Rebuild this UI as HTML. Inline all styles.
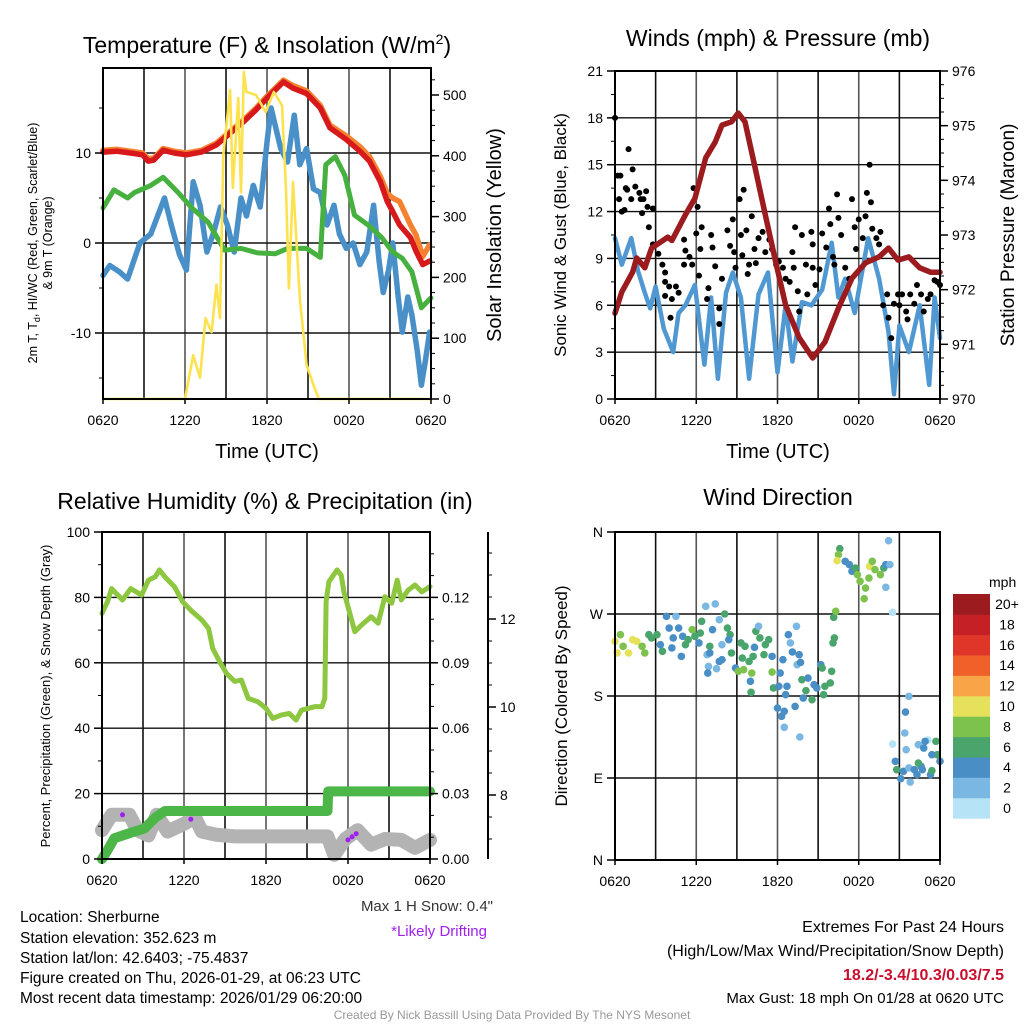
<!DOCTYPE html>
<html><head><meta charset="utf-8">
<style>
html,body{margin:0;padding:0;background:#fff;}
svg{display:block;font-family:"Liberation Sans",Arial,sans-serif;}
</style></head>
<body>
<svg id="root" width="1024" height="1024" viewBox="0 0 1024 1024" xmlns="http://www.w3.org/2000/svg">
<text x="267" y="53" font-size="23" text-anchor="middle">Temperature (F) &amp; Insolation (W/m<tspan dy="-9" font-size="14">2</tspan><tspan dy="9">)</tspan></text>
<text x="778" y="46" font-size="23" text-anchor="middle">Winds (mph) &amp; Pressure (mb)</text>
<text x="265" y="509" font-size="23" text-anchor="middle">Relative Humidity (%) &amp; Precipitation (in)</text>
<text x="778" y="505" font-size="23" text-anchor="middle">Wind Direction</text>
<text x="267" y="458" font-size="20" text-anchor="middle">Time (UTC)</text>
<text x="778" y="458" font-size="20" text-anchor="middle">Time (UTC)</text>
<text transform="translate(37,243) rotate(-90)" font-size="12.5" text-anchor="middle">2m T, T<tspan dy="3" font-size="9">d</tspan><tspan dy="-3">, HI/WC (Red, Green, Scarlet/Blue)</tspan></text>
<text transform="translate(52,243) rotate(-90)" font-size="12.5" text-anchor="middle">&amp; 9m T (Orange)</text>
<text transform="translate(501,235) rotate(-90)" font-size="20" text-anchor="middle">Solar Insolation (Yellow)</text>
<text transform="translate(566,235) rotate(-90)" font-size="17" text-anchor="middle">Sonic Wind &amp; Gust (Blue, Black)</text>
<text transform="translate(1014,235) rotate(-90)" font-size="19" text-anchor="middle">Station Pressure (Maroon)</text>
<text transform="translate(50,696) rotate(-90)" font-size="13" text-anchor="middle">Percent, Precipitation (Green), &amp; Snow Depth (Gray)</text>
<text transform="translate(567,696) rotate(-90)" font-size="17" text-anchor="middle">Direction (Colored By Speed)</text>
<g font-size="15.5">
<text x="20" y="922">Location: Sherburne</text>
<text x="20" y="943">Station elevation: 352.623 m</text>
<text x="20" y="963">Station lat/lon: 42.6403; -75.4837</text>
<text x="20" y="983">Figure created on Thu, 2026-01-29, at 06:23 UTC</text>
<text x="20" y="1003">Most recent data timestamp: 2026/01/29 06:20:00</text>
</g>
<text x="493" y="911" font-size="15" text-anchor="end" fill="#333">Max 1 H Snow: 0.4"</text>
<text x="487" y="936" font-size="15" text-anchor="end" fill="#a020f0">*Likely Drifting</text>
<text x="1004" y="932" font-size="16" text-anchor="end">Extremes For Past 24 Hours</text>
<text x="1004" y="956" font-size="16" text-anchor="end">(High/Low/Max Wind/Precipitation/Snow Depth)</text>
<text x="1004" y="980" font-size="16" text-anchor="end" font-weight="bold" fill="#c8102e">18.2/-3.4/10.3/0.03/7.5</text>
<text x="1004" y="1003" font-size="15" text-anchor="end">Max Gust: 18 mph On 01/28 at 0620 UTC</text>
<text x="512" y="1019" font-size="12" text-anchor="middle" fill="#999">Created By Nick Bassill Using Data Provided By The NYS Mesonet</text>
</svg>
<script>
// ---------- DATA ----------
const xTickLabels = ["0620","1220","1820","0020","0620"];
// Panel 1
const tempHours = [0,1,2,2.9,3.3,3.7,4.4,5.2,6.1,7.2,8.3,9.0,10.3,11.2,12.0,12.6,13.2,13.9,14.9,15.9,16.6,17.8,18.8,19.5,20.3,20.8,21.2,21.7,22.5,22.9,23.4,23.9];
const tempValues = [10.1,10.2,10.0,9.8,9.1,9.2,10.3,10.0,9.8,10.1,10.9,11.8,13.5,14.8,16.1,17.0,17.9,17.2,16.6,15.0,12.8,11.5,10.2,9.1,6.8,4.6,3.5,2.0,0.6,-0.9,-2.4,-2.0];
const temp9mValues = [10.3,10.4,10.2,10.0,9.4,9.4,10.5,10.2,10.0,10.3,11.1,12.0,13.7,15.0,16.3,17.2,18.1,17.5,16.9,15.3,13.1,11.9,10.7,9.6,7.4,5.5,5.0,4.6,2.0,0.9,-1.5,-0.2];
const dewHours = [0,0.5,1.2,1.8,2.7,3.5,4.1,4.5,5,5.6,6.1,6.6,7.1,7.6,8.1,8.6,9.1,9.6,10.1,10.5,11,11.5,12,12.3,13,13.5,14,14.4,14.9,15.4,15.9,16.4,16.9,17.3,17.8,18.3,18.8,19.3,19.8,20.2,20.5,20.9,21.2,21.6,21.9,22.3,22.6,23,23.3,23.6,23.9];
const dewValues = [-3.6,-2.5,-3.2,-4,0,1,3.4,5,2,-1.3,-3,6.8,4.2,-1,1.2,4,2,-1,5,3,6.4,4,11.2,15,10.5,9,14.2,8.7,10.5,6,5.6,2,4.2,1,-0.6,0,-2.4,-1,4.2,-2,-5.5,-3,0,-6,-9.9,-6,-8,-12,-15.8,-13,-9.9];
const chillHours = [0,0.8,1.8,2.3,3.5,4.4,5.5,6.5,7.7,8.9,10.1,11.3,12.6,13.5,14.9,15.9,16.3,17,17.7,18.4,19.4,20.4,21.2,21.9,22.6,23.3,24];
const chillValues = [3.9,5.9,5,5.6,6.4,7.3,5.6,3.9,2.3,-0.8,-0.6,-1.1,-1.2,-0.6,-0.6,-1.6,8.7,9.6,7.5,3.1,2,0.6,-1,-1.7,-3.2,-7.2,-6.1];
const solarHours = [0,6.0,6.6,7.1,7.5,7.95,8.3,8.56,8.8,9.3,9.5,9.9,10.1,10.3,10.5,11.2,11.9,12.5,13.1,13.4,13.6,13.9,14.4,14.9,15.4,15.8,24];
const solarValues = [0,0,72,35,133,110,188,133,401,508,347,495,340,538,505,500,472,505,483,340,182,357,166,56,23,0,0];
// Panel 2
const windHours = [0,0.5,1.2,1.7,2.2,2.6,3.0,3.6,4.3,4.7,5.2,5.9,6.6,7.1,7.6,8.2,8.7,9.3,9.9,10.6,11.3,12.0,12.6,13.1,13.8,14.5,15.3,16.0,16.5,17.0,17.7,18.7,19.5,20.2,20.6,21.0,21.7,22.5,23.2,23.6,24];
const windValues = [10.3,8.6,10.3,8.2,6.8,5.8,7.2,4.5,3.0,5.5,6.0,7.3,2.2,6.5,1.3,6.8,8.1,6.5,1.3,6.7,8.1,1.7,6.0,2.4,6.2,6.0,7.0,10.0,6.5,7.7,5.5,10.3,7.7,4.3,0.3,4.7,3.0,6.0,0.9,6.5,3.9];
const pressHours = [0,0.5,1.3,1.6,2.2,2.7,3.9,4.2,5.2,5.9,6.7,7.4,7.9,8.6,9.1,9.6,10.3,11.1,11.8,12.6,13.6,14.6,15.5,16.5,17.5,18.5,19.5,20.2,20.9,21.7,22.5,23.3,24];
const pressValues = [971.57,971.96,972.32,972.58,972.40,972.76,972.96,972.90,973.37,973.67,974.41,974.70,975.01,975.07,975.23,975.07,974.28,973.37,972.58,971.72,971.12,970.75,971.04,971.66,972.21,972.49,972.60,972.76,972.54,972.60,972.40,972.32,972.32];
const gustHours = [0,1.0,0.2,0.4,1.3,0.8,0.9,1.5,1.8,2.3,0.3,1.2,1.9,2.1,0.7,2.0,2.8,0.5,2.4,2.5,2.8,3.2,3.5,3.7,3.7,4.0,4.5,4.7,3.7,4.2,4.1,5.1,5.2,5.5,5.7,5.1,5.8,6.1,6.0,6.4,6.3,6.2,6.9,6.8,7.2,7.1,7.4,7.7,7.7,7.9,8.3,8.5,8.7,8.8,8.9,9.2,9.5,9.3,9.4,9.7,9.8,9.9,10.1,10.3,10.4,10.6,10.9,11.1,11.4,11.6,11.9,12.1,12.4,12.6,12.9,13.1,13.2,13.3,13.5,13.6,13.8,14.1,14.2,14.5,14.6,14.6,14.8,15.1,15.3,15.6,15.8,15.9,16.1,16.2,16.4,16.5,16.7,17.0,17.3,17.5,17.7,17.8,18.0,18.3,18.5,18.6,18.9,18.8,19.0,19.3,19.5,19.6,19.8,20.1,20.2,20.4,20.6,20.9,21.0,21.2,21.5,21.6,21.8,22.1,22.3,22.6,22.8,23.1,23.3,23.6,23.8,24];
const gustValues = [18,16,14.3,14.3,14.7,13.5,13.4,13.6,13.2,13.3,12.8,12.8,12.8,12.8,12.1,11.9,12.2,12.0,12.3,11.0,9.9,9.3,8.6,8.1,7.5,7.2,7.2,6.8,6.6,6.4,5.2,10.2,9.5,9.1,8.6,8.6,13.5,12.3,10.6,11,9.6,7.9,7.1,6.4,9.7,10.5,8.5,5.8,4.8,7.7,10.8,9.8,11.5,9.4,8.4,12.8,13.4,10.5,9.2,10.8,8.0,8.6,11.7,9.6,8.7,10.3,10.7,9.4,10.2,9.6,8.6,8.8,8.4,7.7,7.5,9.4,8.4,11.0,6.9,5.6,10.5,8.6,6.7,10.7,9.9,8.4,7.3,8.3,10.6,9.7,12.2,11.2,9.1,8.6,13.1,11.6,10.5,8.4,7.7,12.8,11.0,9.6,11.5,10.3,11.7,13.2,12.6,15.0,10.9,10.3,9.9,10.7,6.0,6.7,5.2,3.9,6.1,6.7,6.0,6.7,5.6,5.1,6.7,6.1,7.3,6.7,5.6,6.4,6.7,7.6,7.5,7.3];
// Panel 3
const rhHours = [0,0.4,0.7,1.5,2.1,2.9,3.4,3.9,4.2,4.7,5.3,5.9,6.5,7.3,7.8,8.1,8.6,9.1,9.7,10.2,10.7,11.4,12,12.5,13.1,13.7,14.2,14.6,15.6,16.1,16.3,16.4,16.6,17.2,17.5,17.7,18.1,18.5,19,19.7,20.2,20.7,21.2,21.6,21.9,22.4,22.9,23.4,24];
const rhValues = [75.1,78.7,82.7,79.2,82.7,80.7,85.3,86.3,88.4,85.8,83.3,78.7,76.1,73.1,70.5,64.4,60.4,56.8,54.3,54.7,49.1,48.1,46.1,43,44,44.5,42.5,45.5,46.6,46.6,49.1,78.7,84.8,88.4,86.8,81.7,75.6,69.5,71.6,74.1,72.1,80.2,78.2,85.3,79.2,82.2,83.8,81.7,83.3];
const precipHours = [0,0.4,0.9,2.1,3.1,3.9,4.6,16.5,16.55,24];
const precipValues = [0,0.004,0.0095,0.012,0.014,0.019,0.022,0.022,0.031,0.031];
const snowHours = [0,0.7,2.0,2.6,3.4,4.0,4.8,6.1,6.8,7.3,8.3,9.7,16.5,17.0,17.8,18.7,19.7,20.7,21.9,22.9,24];
const snowValues = [7.2,7.55,7.55,7.2,7.08,7.55,7.17,7.36,7.5,7.17,7.1,7.06,7.06,6.64,7.0,7.2,6.87,7.0,6.98,6.8,6.98];
const driftHours = [1.5,6.5,18.0,18.3,18.6];
const driftValues = [7.55,7.45,6.98,7.05,7.12];
// Panel 4
const dirHours = [0,0.15,0.4,0.6,1.0,1.3,1.6,2.0,2.2,2.5,2.7,3.1,3.5,3.35,3.8,4.5,4.0,4.3,4.7,5.0,4.2,4.9,5.2,5.7,5.4,5.9,6.4,6.3,6.2,6.7,7.4,7.2,7.7,8.1,8.3,8.5,7.0,6.8,7.0,7.7,6.9,7.5,6.85,7.9,8.4,7.9,8.6,8.9,9.1,9.5,9.3,9.6,9.4,9.9,10.1,10.2,10.0,10.05,10.3,10.4,10.6,10.7,11.1,11.35,11.0,11.6,11.6,12.2,11.7,12.1,12.7,12.6,12.0,12.3,12.5,12.5,13.3,13.4,12.8,12.95,13.1,13.6,13.45,13.7,12.4,13.8,14.25,13.9,14.1,14.55,14.7,14.9,15.2,15.3,15.4,15.5,15.9,16.0,13.65,16.1,16.2,16.15,16.3,16.6,16.5,16.4,17.0,17.3,17.5,17.75,17.9,18.1,18.5,18.4,18.75,18.8,19.0,19.2,19.6,19.85,20.0,20.2,20.3,20.0,20.5,21.7,21.45,21.4,20.5,21.5,22.4,23.1,22.8,22.9,24.0,23.7,23.8,20.7,20.8,21.1,21.3,21.8,21.7,22.1,22.3,22.6,22.7,23.3,23.4,22.4,23.4];
const dirValues = [240,227.2,247.3,234.5,227.2,241.8,240,234.5,227.2,247.3,243.7,247.3,229,236.3,267.4,267.4,254.6,243.7,254.6,245.5,232.7,223.5,236.3,252.8,241.8,245.5,262,249.1,238.2,278.4,281,252.8,263.8,270,254.6,247.3,234.5,225.4,227.2,218,212.5,210,205.2,219.9,241.8,236.3,227.2,210.7,207.1,208.9,238.2,234.5,221.7,218,205.2,223.5,196.1,184,233.4,251,256.5,243.7,236.3,241.8,225.4,223.5,206.3,205.2,188.8,190.6,190.6,181.4,166.8,157.7,163.2,145.6,168.6,256.5,247.3,238.2,228.3,225.4,214.4,216.9,219.9,197.9,199.7,177.8,185.8,176,192.4,188.8,214.4,210.7,181.4,190.6,194.3,207.1,135,238.2,243.7,266.3,273,341.7,335.1,328.5,327.8,324.2,316.8,320.5,313.2,305.9,298.5,286.8,309.5,322.3,327.8,318.7,313.2,320.5,324.2,350.5,324.2,299.3,271.8,179.6,162.4,139.4,127.3,121.1,126.6,131.7,122.9,130.2,108.3,130.2,115.6,108.3,99.1,89.2,97.3,85.6,101,99.1,93.6,102.8,99.1,93.6,98,106.4,115.6];
const dirSpeeds = [10,10,8,8,10,10,10,8,8,6,6,6,6,4,4,2,4,4,4,4,4,4,6,8,6,6,6,6,4,2,2,4,2,6,6,6,6,2,4,4,2,2,4,4,4,2,6,4,8,8,6,6,6,6,8,6,4,6,4,6,2,6,6,6,6,4,8,4,6,4,4,4,4,4,4,2,4,2,4,2,4,4,2,4,4,6,4,4,6,6,4,4,4,6,6,6,6,6,2,6,6,6,8,6,8,10,4,4,4,6,8,8,8,8,8,10,8,8,8,6,4,2,2,2,0,2,4,2,0,2,2,0,4,4,4,6,6,4,6,4,4,2,2,4,4,4,4,4,6,6,4];
const cbLabels = ["0","2","4","6","8","10","12","14","16","18","20+"];
const cbColors = ["#b6e3f6","#7ab7e3","#4a8ec6","#4aa56d","#7cc24d","#e6e15a","#f7a546","#f0612a","#e0362a","#c42026","#9b1b1e"];

// ---------- DRAW ----------
const NS = "http://www.w3.org/2000/svg";
const root = document.getElementById("root");
function mk(tag, attrs, parent) {
  const e = document.createElementNS(NS, tag);
  for (const k in attrs) e.setAttribute(k, attrs[k]);
  (parent || root).appendChild(e);
  return e;
}
function lin(d0, d1, r0, r1) { return v => r0 + (v - d0) / (d1 - d0) * (r1 - r0); }
function pathD(xs, ys, fx, fy) { return xs.map((h, i) => (i ? "L" : "M") + fx(h).toFixed(1) + "," + fy(ys[i]).toFixed(1)).join(""); }

function frame(name, L, T, R, B, fx, hGridVals, fy) {
  const g = mk("g", {});
  
  
  for (let h = 3; h < 24; h += 3) mk("line", {x1: fx(h), x2: fx(h), y1: T, y2: B, stroke: (h % 6 === 0) ? "#555" : "#111", "stroke-width": 1.6}, g);
  hGridVals.forEach(v => mk("line", {x1: L, x2: R, y1: fy(v), y2: fy(v), stroke: "#111", "stroke-width": 1.4}, g));
  return g;
}
function border(name, L, T, R, B, fx) {
  const g = mk("g", {});
  
  
  mk("rect", {x: L, y: T, width: R - L, height: B - T, fill: "none", stroke: "#000", "stroke-width": 2}, g);
  xTickLabels.forEach((t, i) => {
    const x = fx(i * 6);
    mk("line", {x1: x, x2: x, y1: B, y2: B + 5, stroke: "#000", "stroke-width": 1.5}, g);
    const tx = mk("text", {x: x, y: B + 26, "font-size": 14, "text-anchor": "middle"}, g);
    tx.textContent = t;
  });
}
function yAxis(name, x, ticks, fy, side, labelFn, minor) {
  const g = mk("g", {});
  
  
  const dir = side === "left" ? -1 : 1;
  minor.forEach(v => mk("line", {x1: x, x2: x + dir * 4, y1: fy(v), y2: fy(v), stroke: "#000", "stroke-width": 1}, g));
  ticks.forEach(v => {
    mk("line", {x1: x, x2: x + dir * 8, y1: fy(v), y2: fy(v), stroke: "#000", "stroke-width": 1.5}, g);
    const t = mk("text", {x: x + dir * 12, y: fy(v) + 5, "font-size": 14, "text-anchor": side === "left" ? "end" : "start"}, g);
    t.textContent = labelFn(v);
  });
}
function series(name, xs, ys, fx, fy, color, w) {
  const p = mk("path", {d: pathD(xs, ys, fx, fy), fill: "none", stroke: color, "stroke-width": w, "stroke-linejoin": "round", "stroke-linecap": "round"});
  
  
  return p;
}
function range(a, b, s) { const r = []; for (let v = a; v <= b + 1e-9; v += s) r.push(+v.toFixed(4)); return r; }

// Panel 1
{
  const L = 103, R = 431, T = 68, B = 399;
  const fx = lin(0, 24, L, R), fy = lin(0, -10, 243, 333), fs = lin(0, 500, 399, 95);
  frame("temperature", L, T, R, B, fx, [10, 0, -10], fy);
  series("dewpoint-line", dewHours, dewValues, fx, fy, "#4a90c8", 5.5);
  series("windchill-line", chillHours, chillValues, fx, fy, "#47b13f", 5);
  series("temp-9m-line", tempHours, temp9mValues, fx, fy, "#f58231", 5.5);
  series("temp-2m-line", tempHours, tempValues, fx, fy, "#d7191c", 5.5);
  series("insolation-line", solarHours, solarValues, fx, fs, "#fde24f", 2.6);
  border("temperature", L, T, R, B, fx);
  yAxis("temperature-y-axis", L, [10, 0, -10], fy, "left", v => v, [15, 5, -5, -15]);
  yAxis("insolation-y-axis", R, [0, 100, 200, 300, 400, 500], fs, "right", v => v, range(25, 525, 25));
}
// Panel 2
{
  const L = 615, R = 940, T = 71, B = 399;
  const fx = lin(0, 24, L, R), fy = lin(0, 21, B, T), fp = lin(970, 976, B, T);
  frame("winds", L, T, R, B, fx, [3, 6, 9, 12, 15, 18], fy);
  series("sonic-wind-line", windHours, windValues, fx, fy, "#4f98d2", 4.5);
  const g = mk("g", {});
  
  
  gustHours.forEach((h, i) => {
    const c = mk("circle", {cx: fx(h), cy: fy(gustValues[i]), r: 3, fill: "#000"}, g);
    
    
  });
  series("pressure-line", pressHours, pressValues, fx, fp, "#9b1b1e", 5.5);
  border("winds", L, T, R, B, fx);
  yAxis("wind-y-axis", L, [0, 3, 6, 9, 12, 15, 18, 21], fy, "left", v => v, range(1.5, 19.5, 3));
  yAxis("pressure-y-axis", R, [970, 971, 972, 973, 974, 975, 976], fp, "right", v => v, range(970.25, 975.75, 0.25));
}
// Panel 3
{
  const L = 102, R = 430, T = 532, B = 859;
  const fx = lin(0, 24, L, R), fy = lin(0, 100, B, T), fpr = lin(0, 0.15, B, T), fsn = lin(8, 10, 795, 707);
  frame("humidity", L, T, R, B, fx, [20, 40, 60, 80], fy);
  series("snow-depth-line", snowHours, snowValues, fx, fsn, "#b3b3b3", 14);
  series("precip-line", precipHours, precipValues, fx, fpr, "#4cb648", 10);
  const g = mk("g", {});
  
  
  driftHours.forEach((h, i) => {
    const c = mk("circle", {cx: fx(h), cy: fsn(driftValues[i]), r: 2.5, fill: "#a020f0"}, g);
    
    
  });
  series("rh-line", rhHours, rhValues, fx, fy, "#8dc63f", 5);
  border("humidity", L, T, R, B, fx);
  yAxis("humidity-y-axis", L, [0, 20, 40, 60, 80, 100], fy, "left", v => v, range(10, 90, 20));
  yAxis("precip-y-axis", R, [0, 0.03, 0.06, 0.09, 0.12], fpr, "right", v => v.toFixed(2), range(0.01, 0.14, 0.01));
  const sx = 488;
  const ax = mk("line", {x1: sx, x2: sx, y1: T, y2: B, stroke: "#000", "stroke-width": 2});
  
  
  yAxis("snow-depth-y-axis", sx, [8, 10, 12], fsn, "right", v => v, [7, 7.5, 8.5, 9, 9.5, 10.5, 11, 11.5, 12.5, 13, 13.5]);
}
// Panel 4
{
  const L = 615, R = 940, T = 532, B = 860;
  const fx = lin(0, 24, L, R), fy = lin(0, 360, B, T);
  frame("direction", L, T, R, B, fx, [90, 180, 270], fy);
  const g = mk("g", {});
  
  
  dirHours.forEach((h, i) => {
    const idx = Math.min(10, Math.floor(dirSpeeds[i] / 2));
    const c = mk("circle", {cx: fx(h), cy: fy(dirValues[i]), r: 3.8, fill: cbColors[idx]}, g);
    
    
  });
  border("direction", L, T, R, B, fx);
  yAxis("direction-y-axis", L, [0, 90, 180, 270, 360], fy, "left", v => ({0: "N", 90: "E", 180: "S", 270: "W", 360: "N"})[v], []);
  const cb = mk("g", {});
  
  
  const t0 = mk("text", {x: 989, y: 587, "font-size": 14}, cb);
  t0.textContent = "mph";
  const top = 594, bh = 20.4;
  cbLabels.forEach((lab, i) => {
    const y = top + (10 - i) * bh;
    const r = mk("rect", {x: 953, y: y, width: 37, height: bh + 0.3, fill: cbColors[i]}, cb);
    
    
    const t = mk("text", {x: 1007, y: y + 15, "font-size": 14, "text-anchor": "middle"}, cb);
    t.textContent = lab;
  });
}
</script>
</body></html>
